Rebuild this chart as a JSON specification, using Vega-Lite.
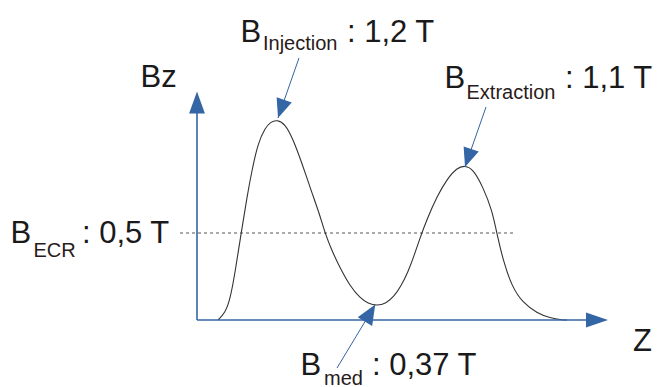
{
  "$schema": "https://vega.github.io/schema/vega-lite/v6.json",
  "width": 660,
  "height": 387,
  "padding": 0,
  "autosize": {"type": "none"},
  "background": "white",
  "config": {"view": {"stroke": null}, "text": {"font": "Liberation Sans"}},
  "datasets": {
    "curve": [
      {"z": 2.1, "bz": 0}, {"z": 2.8, "bz": 0.04}, {"z": 3.3, "bz": 0.115}, {"z": 3.8, "bz": 0.27},
      {"z": 4.4, "bz": 0.494}, {"z": 5.0, "bz": 0.707}, {"z": 5.5, "bz": 0.862}, {"z": 6.1, "bz": 1.017},
      {"z": 6.8, "bz": 1.103}, {"z": 7.4, "bz": 1.14}, {"z": 8.0, "bz": 1.15}, {"z": 8.8, "bz": 1.128},
      {"z": 9.6, "bz": 1.04}, {"z": 10.5, "bz": 0.9}, {"z": 11.5, "bz": 0.73}, {"z": 12.3, "bz": 0.6},
      {"z": 12.8, "bz": 0.5}, {"z": 13.5, "bz": 0.397}, {"z": 14.3, "bz": 0.3}, {"z": 15.3, "bz": 0.195},
      {"z": 16.3, "bz": 0.126}, {"z": 17.1, "bz": 0.095}, {"z": 18.0, "bz": 0.082}, {"z": 18.9, "bz": 0.095},
      {"z": 19.7, "bz": 0.135}, {"z": 20.4, "bz": 0.195}, {"z": 21.1, "bz": 0.276}, {"z": 21.7, "bz": 0.368},
      {"z": 22.3, "bz": 0.471}, {"z": 23.0, "bz": 0.58}, {"z": 24.0, "bz": 0.71}, {"z": 25.0, "bz": 0.81},
      {"z": 26.0, "bz": 0.875}, {"z": 26.8, "bz": 0.888}, {"z": 27.6, "bz": 0.868}, {"z": 28.6, "bz": 0.764},
      {"z": 29.5, "bz": 0.632}, {"z": 30.0, "bz": 0.494}, {"z": 30.6, "bz": 0.345}, {"z": 31.5, "bz": 0.19},
      {"z": 32.6, "bz": 0.098}, {"z": 34.0, "bz": 0.04}, {"z": 35.3, "bz": 0.011}, {"z": 36.6, "bz": 0},
      {"z": 37.0, "bz": 0}
    ],
    "axes": [
      {"z": 0, "bz": 0, "z2": 0, "bz2": 1.19},
      {"z": 0, "bz": 0, "z2": 38.9, "bz2": 0}
    ],
    "pointers": [
      {"name": "inj", "z": 10.2, "bz": 1.506, "z2": 8.1, "bz2": 1.161},
      {"name": "ext", "z": 28.9, "bz": 1.224, "z2": 26.8, "bz2": 0.879},
      {"name": "med", "z": 14.0, "bz": -0.276, "z2": 17.8, "bz2": 0.086}
    ],
    "ecr": [{"z": -1.7, "z2": 31.6, "bz": 0.5}],
    "heads": [
      {"name": "yaxis", "z": 0, "bz": 1.25},
      {"name": "xaxis", "z": 40.0, "bz": 0},
      {"name": "inj", "z": 8.41, "bz": 1.213},
      {"name": "ext", "z": 27.11, "bz": 0.931},
      {"name": "med", "z": 17.31, "bz": 0.04}
    ],
    "bigText": [
      {"text": "Bz", "z": -5.65, "bz": 1.339},
      {"text": "B", "z": 4.35, "bz": 1.598},
      {"text": ": 1,2 T", "z": 15.0, "bz": 1.598},
      {"text": "B", "z": 24.75, "bz": 1.333},
      {"text": ": 1,1 T", "z": 36.8, "bz": 1.333},
      {"text": "B", "z": -18.65, "bz": 0.443},
      {"text": ": 0,5 T", "z": -11.5, "bz": 0.443},
      {"text": "B", "z": 10.35, "bz": -0.316},
      {"text": ": 0,37 T", "z": 17.5, "bz": -0.316},
      {"text": "Z", "z": 43.6, "bz": -0.178}
    ],
    "smallText": [
      {"text": "Injection", "z": 6.6, "bz": 1.552},
      {"text": "Extraction", "z": 26.95, "bz": 1.27},
      {"text": "ECR", "z": -16.36, "bz": 0.362},
      {"text": "med", "z": 12.7, "bz": -0.374}
    ]
  },
  "encoding": {
    "x": {"field": "z", "type": "quantitative", "scale": {"domain": [-19.7, 46.3], "nice": false, "zero": false}, "axis": null},
    "y": {"field": "bz", "type": "quantitative", "scale": {"domain": [-0.385, 1.839], "nice": false, "zero": false}, "axis": null}
  },
  "layer": [
    {
      "data": {"name": "ecr"},
      "mark": {"type": "rule", "color": "#555555", "strokeWidth": 1, "strokeDash": [3, 3]},
      "encoding": {"x2": {"field": "z2"}}
    },
    {
      "data": {"name": "curve"},
      "mark": {"type": "line", "color": "#333333", "strokeWidth": 1.1, "interpolate": "basis"},
      "encoding": {"order": {"field": "z", "type": "quantitative"}}
    },
    {
      "data": {"name": "axes"},
      "mark": {"type": "rule", "color": "#3465a4", "strokeWidth": 1.6},
      "encoding": {"x2": {"field": "z2"}, "y2": {"field": "bz2"}}
    },
    {
      "data": {"name": "pointers"},
      "mark": {"type": "rule", "color": "#3465a4", "strokeWidth": 1},
      "encoding": {"x2": {"field": "z2"}, "y2": {"field": "bz2"}}
    },
    {
      "data": {"name": "heads"},
      "transform": [{"filter": "datum.name === 'yaxis'"}],
      "mark": {"type": "point", "shape": "M0,-1L0.72,1L-0.72,1Z", "size": 484, "filled": true, "color": "#3465a4", "opacity": 1, "angle": 0}
    },
    {
      "data": {"name": "heads"},
      "transform": [{"filter": "datum.name === 'xaxis'"}],
      "mark": {"type": "point", "shape": "M0,-1L0.68,1L-0.68,1Z", "size": 484, "filled": true, "color": "#3465a4", "opacity": 1, "angle": 90}
    },
    {
      "data": {"name": "heads"},
      "transform": [{"filter": "datum.name === 'inj' || datum.name === 'ext'"}],
      "mark": {"type": "point", "shape": "M0,-1L0.84,1L-0.84,1Z", "size": 361, "filled": true, "color": "#3465a4", "opacity": 1, "angle": 199}
    },
    {
      "data": {"name": "heads"},
      "transform": [{"filter": "datum.name === 'med'"}],
      "mark": {"type": "point", "shape": "M0,-1L0.84,1L-0.84,1Z", "size": 400, "filled": true, "color": "#3465a4", "opacity": 1, "angle": 31}
    },
    {
      "data": {"name": "bigText"},
      "mark": {"type": "text", "fontSize": 31, "align": "left", "baseline": "alphabetic", "color": "#1a1a1a"},
      "encoding": {"text": {"field": "text"}}
    },
    {
      "data": {"name": "smallText"},
      "mark": {"type": "text", "fontSize": 20, "align": "left", "baseline": "alphabetic", "color": "#2a1a1a"},
      "encoding": {"text": {"field": "text"}}
    }
  ]
}
